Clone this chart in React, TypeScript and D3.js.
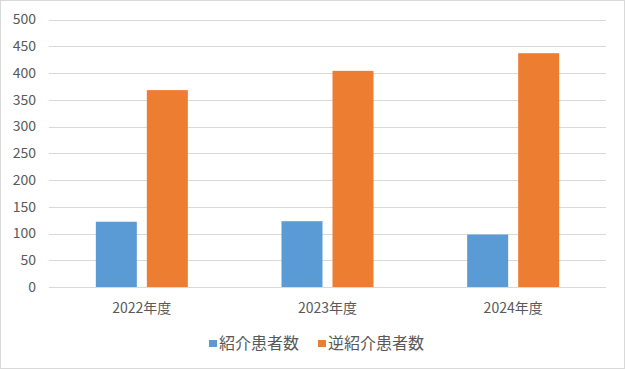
import React from "react";
import * as d3 from "d3";

const categories = ["2022年度", "2023年度", "2024年度"];
const seriesNames = ["紹介患者数", "逆紹介患者数"];
const referral = [122, 123, 98];
const reverseReferral = [368, 404, 437];
const yTicks = [0, 50, 100, 150, 200, 250, 300, 350, 400, 450, 500];
const colors = ["#5B9BD5", "#ED7D31"];

export default function App() {
  const W = 625, H = 369;
  const left = 49, right = 606, top = 19.5, bottom = 287;
  const x = d3.scaleBand<string>().domain(categories).range([left, right]).paddingInner(0).paddingOuter(0);
  const y = d3.scaleLinear().domain([0, 500]).range([bottom, top]);
  const barW = 41, gap = 10;
  const series = [referral, reverseReferral];
  const font = "'Noto Sans CJK JP', 'Noto Sans', sans-serif";
  return (
    <svg width={W} height={H} style={{ position: "absolute", left: 0, top: 0 }}>
      <rect x={0.5} y={0.5} width={W - 1} height={H - 1} fill="#fff" stroke="#d9d9d9" />
      {yTicks.map((t) => (
        <g key={t}>
          <line x1={left} x2={right} y1={Math.round(y(t)) + 0.5} y2={Math.round(y(t)) + 0.5} stroke="#d9d9d9" strokeWidth={1} />
          <text x={36} y={y(t)} dy="0.35em" textAnchor="end" fontFamily={font} fontSize={14} fill="#595959">{t}</text>
        </g>
      ))}
      {categories.map((c, i) => {
        const cx = (x(c) as number) + x.bandwidth() / 2;
        return (
          <g key={c}>
            {series.map((s, j) => {
              const bx = cx - gap / 2 - barW + j * (barW + gap);
              return <rect key={j} x={bx} y={y(s[i])} width={barW} height={bottom - y(s[i])} fill={colors[j]} />;
            })}
            <text x={cx} y={308} dy="0.35em" textAnchor="middle" fontFamily={font} fontSize={14} fill="#595959">{c}</text>
          </g>
        );
      })}
      {seriesNames.map((n, j) => {
        const lx = [209, 318][j];
        return (
          <g key={n}>
            <rect x={lx} y={340} width={8} height={7} fill={colors[j]} />
            <text x={lx + 10} y={343} dy="0.35em" fontFamily={font} fontSize={16} fill="#595959">{n}</text>
          </g>
        );
      })}
    </svg>
  );
}
